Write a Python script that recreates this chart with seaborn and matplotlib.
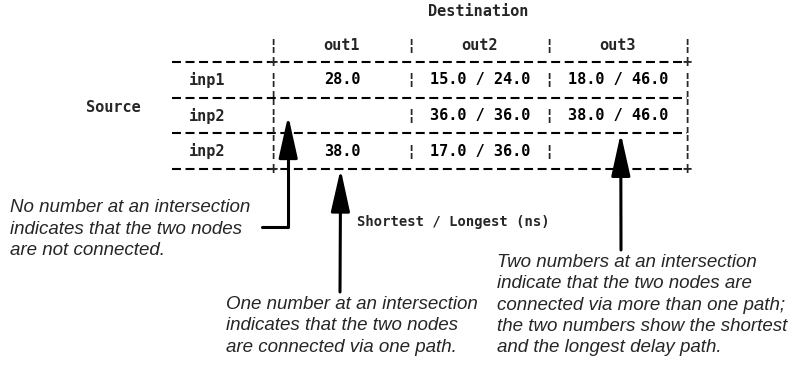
import numpy as np
import matplotlib
matplotlib.use("Agg")
import matplotlib.pyplot as plt
from matplotlib.colors import ListedColormap
import seaborn as sns

# delay table: source rows x destination columns, None = no path
sources = ["inp1", "inp2", "inp2"]
destinations = ["out1", "out2", "out3"]
shortest = [[28.0, 15.0, 18.0], [None, 36.0, 38.0], [38.0, 17.0, None]]
longest = [[None, 24.0, 46.0], [None, 36.0, 46.0], [None, 36.0, None]]

note_none = "No number at an intersection\nindicates that the two nodes\nare not connected."
note_one = "One number at an intersection\nindicates that the two nodes\nare connected via one path."
note_two = ("Two numbers at an intersection\nindicate that the two nodes are\n"
            "connected via more than one path;\nthe two numbers show the shortest\n"
            "and the longest delay path.")


def cell_text(s, l):
    if s is None:
        return ""
    if l is None:
        return f"{s:.1f}"
    return f"{s:.1f} / {l:.1f}"


labels = np.array([[cell_text(s, l) for s, l in zip(rs, rl)]
                   for rs, rl in zip(shortest, longest)])
n_paths = np.array([[0 if s is None else (1 if l is None else 2) for s, l in zip(rs, rl)]
                    for rs, rl in zip(shortest, longest)])

sns.set_style("white")
mono = {"family": "DejaVu Sans Mono", "weight": "bold", "size": 11}
note_font = {"family": "Liberation Sans", "style": "italic", "size": 13.5}

W, H = 806, 373
fig = plt.figure(figsize=(W / 100, H / 100), dpi=100)
ax = fig.add_axes([273 / W, 1 - 169 / H, (687 - 273) / W, (169 - 62) / H])
sns.heatmap(n_paths, ax=ax, cmap=ListedColormap(["white"]), cbar=False,
            annot=labels, fmt="", annot_kws=mono | {"color": "black"},
            xticklabels=False, yticklabels=False)

# row / column headers
for i, name in enumerate(sources):
    ax.text(-0.48, i + 0.5, name, ha="center", va="center", **mono)
for j, name in enumerate(destinations):
    ax.text(j + 0.5, -0.47, name, ha="center", va="center", **mono)

# ascii-style rules
for y in range(len(sources) + 1):
    ax.plot([-0.73, len(destinations)], [y, y], color="black", lw=1.5,
            ls=(0, (4.3, 2.2)), clip_on=False)
for y in [-0.47] + [i + 0.5 for i in range(len(sources))]:
    for x in range(len(destinations) + 1):
        ax.text(x, y, "¦", ha="center", va="center", **mono)
for y in range(len(sources) + 1):
    ch = "+" if y in (0, len(sources)) else "¦"
    for x in (0, len(destinations)):
        ax.text(x, y, ch, ha="center", va="center", **mono)

fig.text(478 / W, 1 - 11 / H, "Destination", ha="center", va="center", **mono)
fig.text(113 / W, 1 - 107 / H, "Source", ha="center", va="center", **mono)
fig.text(453 / W, 1 - 222 / H, "Shortest / Longest (ns)", ha="center", va="center",
         family="DejaVu Sans Mono", weight="bold", size=10)

# notes
fig.text(10 / W, 1 - 229 / H, note_none, ha="left", va="center", linespacing=1.31, **note_font)
fig.text(226 / W, 1 - 326 / H, note_one, ha="left", va="center", linespacing=1.31, **note_font)
fig.text(497 / W, 1 - 305 / H, note_two, ha="left", va="center", linespacing=1.31, **note_font)

arrow = dict(arrowstyle="-|>,head_length=26,head_width=5.8", mutation_scale=1,
             color="black", lw=2.2, shrinkA=0, shrinkB=0)
ax.annotate("", xy=(0.11, 1.5), xytext=(262, H - 227), textcoords="figure pixels",
            arrowprops=arrow | {"connectionstyle": "angle,angleA=0,angleB=90,rad=0"})
ax.annotate("", xy=(0.49, 3.0), xytext=(340, H - 292), textcoords="figure pixels",
            arrowprops=arrow)
ax.annotate("", xy=(2.52, 2.0), xytext=(621, H - 250), textcoords="figure pixels",
            arrowprops=arrow)

fig.savefig("out.png", dpi=100)
